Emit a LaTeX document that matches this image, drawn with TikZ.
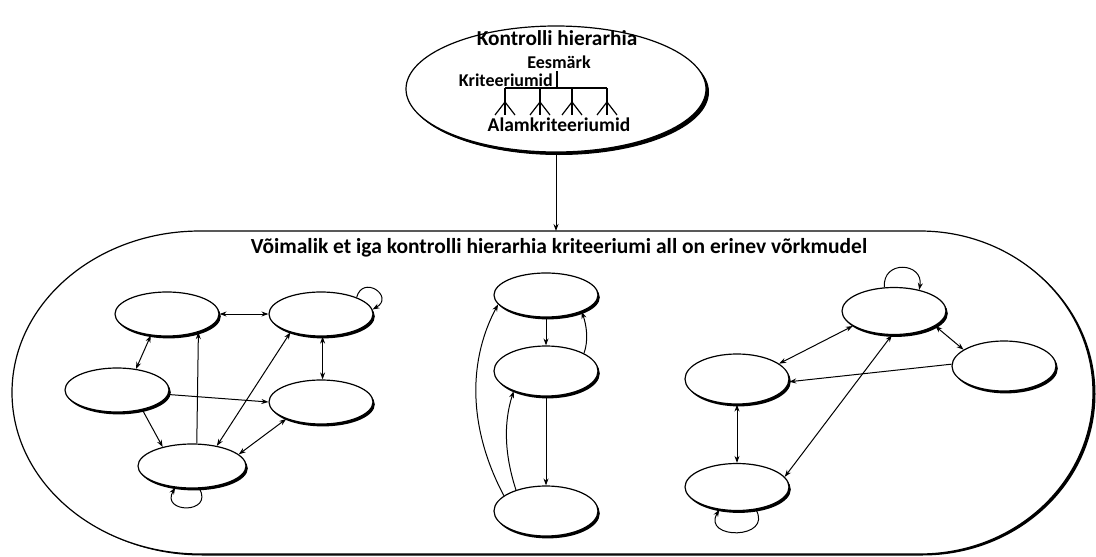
\documentclass[tikz,border=0pt]{standalone}
\usepackage{fontspec}
\setmainfont{Carlito}
\usetikzlibrary{arrows.meta,shapes.geometric,shadows}
\begin{document}
\begin{tikzpicture}[x=1pt,y=-1pt,
  st/.style={ellipse, draw, line width=1.2pt, fill=white, inner sep=0pt,
    minimum width=104pt, minimum height=44pt,
    drop shadow={shadow xshift=1.8pt, shadow yshift=-2.4pt, opacity=1, fill=black}},
  ar/.style={-{Stealth[length=7pt,width=5pt]}, line width=1pt},
  dar/.style={{Stealth[length=7pt,width=5pt]}-{Stealth[length=7pt,width=5pt]}, line width=1pt},
  lbl/.style={font=\fontsize{18}{21}\selectfont\bfseries, inner sep=0pt},
  tree/.style={line width=1.2pt}]
\useasboundingbox (0,0) rectangle (1096,557);

% big frame
\path[draw, line width=1.2pt, fill=white,
  drop shadow={shadow xshift=2.5pt, shadow yshift=-1.5pt, opacity=1, fill=black}]
  (200,231) -- (920,231)
  arc[start angle=90, end angle=-90, x radius=173pt, y radius=161.5pt]
  -- (200,554)
  arc[start angle=-90, end angle=-270, x radius=188pt, y radius=161.5pt]
  -- cycle;
\coordinate (ftop) at (558,231);

% top ellipse
\node[st, minimum width=300pt, minimum height=126pt,
  drop shadow={shadow xshift=3pt, shadow yshift=-3pt, opacity=1, fill=black}] (top) at (556,89) {};
\node[lbl, font=\fontsize{21.3}{25}\selectfont\bfseries] (kh) at (557,38) {Kontrolli hierarhia};
\node[lbl] (ees) at (559,62) {Eesmärk};
\node[lbl, anchor=east] (kri) at (553,80) {Kriteeriumid};
\node[lbl, font=\fontsize{19.5}{23}\selectfont\bfseries] (alam) at (559,125) {Alamkriteeriumid};
\draw[tree] (557,71) -- (557,88);
\draw[tree] (505,88) -- (607,88);
\foreach \x in {505,540,572,607} {
  \draw[tree] (\x,88) -- (\x,115);
  \draw[tree] (\x-10,115) -- (\x,102) -- (\x+10,115);
}
\draw[ar] (top.south) -- (top.south |- ftop);

\node[lbl, font=\fontsize{21.5}{25}\selectfont\bfseries] (title) at (559,248)
  {Võimalik et iga kontrolli hierarhia kriteeriumi all on erinev võrkmudel};

% left network
\node[st] (A) at (167,314) {};
\node[st] (B) at (321,314) {};
\node[st] (C) at (117,390) {};
\node[st] (D) at (321,402) {};
\node[st, minimum width=108pt] (E) at (192,466) {};
\draw[dar] (A.east) -- (B.west);
\draw[ar] (B.25) .. controls +(75:24pt) and +(30:26pt) .. (B.5);
\draw[dar] (A.233) -- (C.48);
\draw[dar] (B.-86) -- (D.86);
\draw[ar] (C.-5) -- (D.west);
\draw[ar] (C.-38) -- (E.147);
\draw[ar] (E.78) -- (A.-30);
\draw[dar] (E.39) -- (B.211);
\draw[dar] (E.14) -- (D.206);
\draw[ar] (E.-72) .. controls +(-60:30pt) and +(-120:30pt) .. (E.-128);

% middle network
\node[st] (F) at (546,295) {};
\node[st, minimum height=50pt] (G) at (546,371) {};
\node[st, minimum height=50pt] (H) at (546,511) {};
\draw[ar] (F.south) -- (G.north);
\draw[ar] (G.25) .. controls +(70:14pt) and +(-70:14pt) .. (F.-25);
\draw[ar] (G.south) -- (H.north);
\draw[ar] (H.145) .. controls +(108:35pt) and +(-108:35pt) .. (G.212);
\draw[ar] (H.160) .. controls +(118:70pt) and +(-118:70pt) .. (F.191);

% right network
\node[st, minimum height=47pt] (I) at (894,311) {};
\node[st, minimum height=50pt] (J) at (1004,366) {};
\node[st, minimum height=50pt] (K) at (737,379) {};
\node[st, minimum height=47pt] (L) at (737,487) {};
\draw[ar] (I.112) .. controls +(95:28pt) and +(80:28pt) .. (I.40);
\draw[dar] (I.200) -- (K.20);
\draw[dar] (I.-20) -- (J.158);
\draw[ar] (J.178) -- (K.-3);
\draw[dar] (K.south) -- (L.north);
\draw[dar] (I.-95) -- (L.12);
\draw[ar] (L.-50) .. controls +(-60:35pt) and +(-120:35pt) .. (L.-128);
\end{tikzpicture}
\end{document}
